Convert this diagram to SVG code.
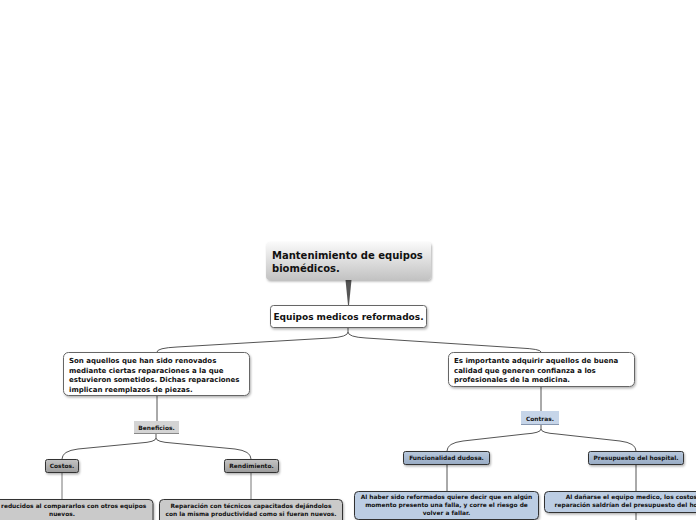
<svg xmlns="http://www.w3.org/2000/svg" width="696" height="520" viewBox="0 0 696 520">
<defs>
<linearGradient id="gMain" x1="0" y1="0" x2="0" y2="1"><stop offset="0" stop-color="#fafafa"/><stop offset="1" stop-color="#c2c2c2"/></linearGradient>
<linearGradient id="gGray" x1="0" y1="0" x2="0" y2="1"><stop offset="0" stop-color="#c4c4c4"/><stop offset="1" stop-color="#9c9c9c"/></linearGradient>
<linearGradient id="gBlue" x1="0" y1="0" x2="0" y2="1"><stop offset="0" stop-color="#b9c9dd"/><stop offset="1" stop-color="#98abc4"/></linearGradient>
<filter id="sh" x="-10%" y="-20%" width="120%" height="150%"><feDropShadow dx="1" dy="1.5" stdDeviation="1.2" flood-color="#000" flood-opacity="0.3"/></filter>
<style>
text{font-family:"DejaVu Sans",Verdana,sans-serif;font-weight:bold;fill:#111}
.t1{font-size:10px}
.t2{font-size:9px}
.t3{font-size:7px}
.t4{font-size:5.9px}
.c{text-anchor:middle}
.ln{fill:none;stroke:#555;stroke-width:1}
.lg{fill:none;stroke:#777;stroke-width:1}
.box{fill:#fff;stroke:#666;stroke-width:1}
.lab{fill:#d4d4d4}
.labb{fill:#c6d5e9}
.gb{fill:url(#gGray);stroke:#333;stroke-width:1}
.bb{fill:url(#gBlue);stroke:#333;stroke-width:1}
.gl{fill:#cacaca;stroke:#333;stroke-width:1}
.bl{fill:#bccde3;stroke:#333;stroke-width:1}
</style>
</defs>
<g id="connectors">
<polygon points="345.5,280 351.5,280 349,305 348,305" fill="#555"/>
<path class="ln" d="M348,327 V332 Q348,337 330,338 L177,347 Q157,348 157,352"/>
<path class="ln" d="M348,332 Q348,337 366,338 L520,348 Q541,349 541,352"/>
<path class="ln" d="M157,396 V421"/>
<path class="ln" d="M156,434 V438 Q156,442 140,443 L78,449 Q62,451 62,459"/>
<path class="ln" d="M156,438 Q156,442 172,443 L235,449 Q251,451 251,459"/>
<path class="lg" d="M62,472 V499"/>
<path class="lg" d="M251,472 V499"/>
<path class="ln" d="M541,386 V411"/>
<path class="ln" d="M541,425 V429 Q541,433 525,434 L463,441 Q447,443 447,451"/>
<path class="ln" d="M541,429 Q541,433 557,434 L620,441 Q636,443 636,451"/>
<path class="ln" d="M447,464 V491"/>
<path class="ln" d="M636,464 V491"/>
<path class="ln" d="M636,512 V520"/>
</g>
<g id="main">
<rect x="266" y="242" width="165" height="38" rx="4" fill="url(#gMain)" filter="url(#sh)"/>
<text class="t1" x="272" y="259">Mantenimiento de equipos</text>
<text class="t1" x="272" y="271.5">biomédicos.</text>
</g>
<g id="reformados">
<rect class="box" x="270.5" y="305.5" width="156" height="22" rx="3" filter="url(#sh)"/>
<text class="t2 c" x="348.5" y="320">Equipos medicos reformados.</text>
</g>
<g id="definicion">
<rect class="box" x="63.5" y="352.5" width="186" height="43" rx="5" filter="url(#sh)"/>
<text class="t3" x="69" y="363">Son aquellos que han sido renovados</text>
<text class="t3" x="69" y="372.5">mediante ciertas reparaciones a la que</text>
<text class="t3" x="69" y="382">estuvieron sometidos. Dichas reparaciones</text>
<text class="t3" x="69" y="391.5">implican reemplazos de piezas.</text>
</g>
<g id="importancia">
<rect class="box" x="448.5" y="352.5" width="186" height="34" rx="5" filter="url(#sh)"/>
<text class="t3" x="454" y="363">Es importante adquirir aquellos de buena</text>
<text class="t3" x="454" y="372.5">calidad que generen confianza a los</text>
<text class="t3" x="454" y="382">profesionales de la medicina.</text>
</g>
<g id="beneficios">
<rect class="lab" x="134" y="421" width="45" height="13"/>
<line x1="134" y1="433.5" x2="179" y2="433.5" stroke="#888"/>
<text class="t4 c" x="156.5" y="430">Beneficios.</text>
</g>
<g id="costos">
<rect class="gb" x="45.5" y="459.5" width="33" height="13" rx="2" filter="url(#sh)"/>
<text class="t4 c" x="62" y="468.3">Costos.</text>
</g>
<g id="rendimiento">
<rect class="gb" x="224.5" y="459.5" width="54" height="13" rx="2" filter="url(#sh)"/>
<text class="t4 c" x="251.5" y="468.3">Rendimiento.</text>
</g>
<g id="costos-detalle">
<rect class="gl" x="-10" y="499.5" width="163" height="26" rx="4" filter="url(#sh)"/>
<text class="t4" x="1" y="507.5">reducidos al compararlos con otros equipos</text>
<text class="t4 c" x="62" y="515.5">nuevos.</text>
</g>
<g id="rendimiento-detalle">
<rect class="gl" x="159.5" y="499.5" width="183" height="26" rx="4" filter="url(#sh)"/>
<text class="t4 c" x="251" y="507.5">Reparación con técnicos capacitados dejándolos</text>
<text class="t4 c" x="251" y="515.5">con la misma productividad como si fueran nuevos.</text>
</g>
<g id="contras">
<rect class="labb" x="521" y="411" width="38" height="14"/>
<line x1="521" y1="424.5" x2="559" y2="424.5" stroke="#8898b0"/>
<text class="t4 c" x="540" y="420.5">Contras.</text>
</g>
<g id="funcionalidad">
<rect class="bb" x="403.5" y="451.5" width="86" height="13" rx="2" filter="url(#sh)"/>
<text class="t4 c" x="446.5" y="460.3">Funcionalidad dudosa.</text>
</g>
<g id="presupuesto">
<rect class="bb" x="588.5" y="451.5" width="95" height="13" rx="2" filter="url(#sh)"/>
<text class="t4 c" x="636" y="460.3">Presupuesto del hospital.</text>
</g>
<g id="funcionalidad-detalle">
<rect class="bl" x="354.5" y="491.5" width="184" height="28" rx="4" filter="url(#sh)"/>
<text class="t4 c" x="446.5" y="499">Al haber sido reformados quiere decir que en algún</text>
<text class="t4 c" x="446.5" y="507">momento presento una falla, y corre el riesgo de</text>
<text class="t4 c" x="446.5" y="515">volver a fallar.</text>
</g>
<g id="presupuesto-detalle">
<rect class="bl" x="544.5" y="491.5" width="184" height="21" rx="4" filter="url(#sh)"/>
<text class="t4 c" x="636.5" y="499">Al dañarse el equipo medico, los costos de</text>
<text class="t4 c" x="636.5" y="507">reparación saldrían del presupuesto del hospital.</text>
</g>
</svg>
